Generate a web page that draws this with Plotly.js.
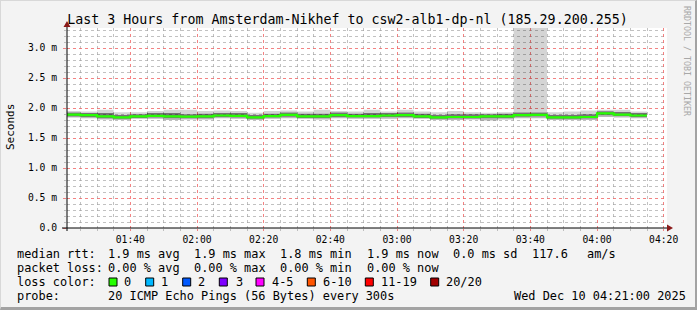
<!DOCTYPE html>
<html><head><meta charset="utf-8">
<script src="https://cdn.plot.ly/plotly-3.0.1.min.js"></script>
<style>
html,body{margin:0;padding:0;background:#f3f3f3;}
#wrap{position:relative;width:697px;height:310px;overflow:hidden;}
#chart{width:697px;height:310px;}
#frame{position:absolute;left:0;top:0;width:697px;height:310px;box-sizing:border-box;border-top:1px solid #d8d8d8;border-left:1px solid #d8d8d8;border-right:2px solid #a3a3a3;border-bottom:3px solid #a3a3a3;pointer-events:none;}
</style></head><body>
<div id="wrap"><div id="chart"></div><div id="frame"></div></div>
<script>
// ---------------- data ----------------
const chartTitle = 'Last 3 Hours from Amsterdam-Nikhef to csw2-alb1-dp-nl (185.29.200.255)';
const rangeStart = '2025-12-10 01:21:00';
const rangeEnd   = '2025-12-10 04:21:00';
const firstBinMinute = 80;   // 01:20, minutes after midnight
const binMinutes = 5;

// median RTT per 5-minute bin (ms)
const medianRtt = [1.89,1.88,1.86,1.845,1.86,1.87,1.86,1.855,1.86,1.875,1.87,1.845,1.865,1.885,1.86,1.86,1.88,1.865,1.865,1.875,1.88,1.86,1.845,1.85,1.85,1.86,1.86,1.88,1.885,1.845,1.845,1.85,1.91,1.89,1.875];
// smoke (ping spread) per bin (ms)
const smokeMin = [1.84,1.83,1.81,1.80,1.82,1.82,1.80,1.81,1.81,1.83,1.82,1.80,1.82,1.83,1.82,1.81,1.83,1.82,1.82,1.82,1.83,1.82,1.80,1.80,1.81,1.79,1.81,1.83,1.83,1.80,1.80,1.80,1.85,1.84,1.83];
const smokeLow = [1.86,1.85,1.83,1.82,1.835,1.84,1.83,1.83,1.83,1.85,1.84,1.82,1.84,1.855,1.835,1.835,1.85,1.84,1.84,1.85,1.85,1.835,1.82,1.825,1.825,1.83,1.835,1.855,1.86,1.82,1.82,1.825,1.88,1.865,1.85];
const smokeHigh = [1.925,1.915,1.915,1.885,1.895,1.915,1.915,1.895,1.905,1.915,1.915,1.885,1.905,1.925,1.905,1.905,1.925,1.905,1.915,1.915,1.925,1.905,1.885,1.895,1.895,1.895,1.905,1.925,1.925,1.885,1.885,1.895,1.945,1.935,1.915];
const smokeMax = [1.95,1.94,1.97,1.93,1.93,1.95,1.97,1.97,1.95,1.96,1.95,1.92,1.95,1.96,1.94,1.97,1.95,1.94,1.97,1.94,1.97,1.94,1.93,1.95,1.93,1.92,1.93,3.60,3.60,1.93,1.94,1.96,1.97,1.97,1.94];

const yTickVals = [0,0.5,1.0,1.5,2.0,2.5,3.0];
const yTickText = ['0.0','0.5 m','1.0 m','1.5 m','2.0 m','2.5 m','3.0 m'];

const legendRows = [
  ['median rtt:', '1.9 ms avg', '1.9 ms max', '1.8 ms min', '1.9 ms now', '0.0 ms sd', '117.6', 'am/s'],
  ['packet loss:', '0.00 % avg', '0.00 % max', '0.00 % min', '0.00 % now'],
];
const lossLabels = ['0','1','2','3','4-5','6-10','11-19','20/20'];
const lossColors = ['#26ff00','#00b8ff','#0059ff','#7e00ff','#ff00ff','#ff5500','#ff0000','#a10000'];
const probeText = '20 ICMP Echo Pings (56 Bytes) every 300s';
const stampText = 'Wed Dec 10 04:21:00 2025';

// ---------------- layout helpers ----------------
const MONO = 'DejaVu Sans Mono, monospace';
const PL = 67, PR = 667, PT = 28, PB = 228;
const PW = PR - PL, PH = PB - PT;
const px = x => (x - PL) / PW;
const py = y => (PB - y) / PH;

function t(m){ const h = Math.floor(m/60), mm = m%60; return '2025-12-10 ' + String(h).padStart(2,'0') + ':' + String(mm).padStart(2,'0') + ':00'; }
const binX = medianRtt.map((_, i) => t(firstBinMinute + i*binMinutes));
binX.push(t(firstBinMinute + medianRtt.length*binMinutes));
const ext = a => a.concat([a[a.length-1]]);

// minor grid positions (skip those that coincide with major grid)
const xMinor = [];
for (let m = 80; m <= 265; m += 5) if (m % 20 !== 0) xMinor.push(t(m));
const yMinor = [];
for (let k = 1; k <= 33; k++) if (k % 5 !== 0) yMinor.push(k/10);

function band(y, fill, fillcolor){
  return {x: binX, y: ext(y), type:'scatter', mode:'lines', line:{width:0, shape:'hv'}, fill: fill, fillcolor: fillcolor, hoverinfo:'skip', showlegend:false};
}
const traces = [
  band(smokeMin, 'none', null),
  band(smokeLow, 'tonexty', 'rgba(0,0,0,0.28)'),
  band(smokeHigh, 'tonexty', 'rgba(0,0,0,0.55)'),
  band(smokeMax, 'tonexty', 'rgba(0,0,0,0.17)'),
  {x: binX, y: ext(medianRtt), type:'scatter', mode:'lines', line:{width:2.2, shape:'hv', color: lossColors[0]}, hoverinfo:'skip', showlegend:false}
];

const annotations = [];
function ann(text, x, y, size, extra){
  annotations.push(Object.assign({text: text, xref:'paper', yref:'paper', x: px(x), y: py(y), xanchor:'left', yanchor:'middle', showarrow:false, borderpad:0, font:{family:MONO, size:size, color:'#000'}}, extra||{}));
}
const FS = 11.9;
const row1X = [16,107.3,193.3,279.3,366,451.7,531,585.7];
legendRows[0].forEach((s,i) => ann(s, row1X[i], 254, FS));
legendRows[1].forEach((s,i) => ann(s, row1X[i], 268, FS));
ann('loss color:', 16, 282, FS);
const boxX = [109,145.7,182.7,219.3,256,307.3,365.3,430.7];
const labX = [123.3,160,196.7,235,270.7,321.7,380,445];
const shapes = [];
lossLabels.forEach((s,i) => {
  ann(s, labX[i], 282, FS);
  shapes.push({type:'rect', xref:'paper', yref:'paper', x0: px(boxX[i]), x1: px(boxX[i]+8), y0: py(286), y1: py(278), fillcolor: lossColors[i], line:{color:'#000', width:1}});
});
ann('probe:', 16, 296, FS);
ann(probeText, 107.3, 296, FS);
ann(stampText, 513.3, 296, FS);
// axis title + watermark
ann('Seconds', 10, 127, 11, {textangle:-90, xanchor:'center'});
ann('RRDTOOL / TOBI OETIKER', 687, 61, 8.3, {textangle:90, xanchor:'center', font:{family:MONO, size:8.3, color:'#a8a8a8'}});

// axes lines and arrows
shapes.push({type:'line', xref:'paper', yref:'paper', x0: px(62), x1: px(668), y0: 0, y1: 0, line:{color:'#000', width:1}, layer:'above'});
shapes.push({type:'line', xref:'paper', yref:'paper', x0: 0, x1: 0, y0: py(231), y1: py(24), line:{color:'#000', width:1}, layer:'above'});
shapes.push({type:'path', xref:'paper', yref:'paper', path:`M ${px(63.5)} ${py(27)} L ${px(70.5)} ${py(27)} L ${px(67)} ${py(21)} Z`, fillcolor:'#8b1a1a', line:{width:0}, layer:'above'});
shapes.push({type:'path', xref:'paper', yref:'paper', path:`M ${px(667)} ${py(224.5)} L ${px(667)} ${py(231.5)} L ${px(673)} ${py(228)} Z`, fillcolor:'#8b1a1a', line:{width:0}, layer:'above'});

const MAJ = 'rgba(240,100,100,0.8)', MIN = 'rgba(160,160,160,0.65)';
const layout = {
  width: 697, height: 310,
  margin: {l: PL, r: 697-PR, t: PT, b: 310-PB, pad: 0},
  paper_bgcolor: '#f3f3f3', plot_bgcolor: '#ffffff',
  showlegend: false,
  title: {text: chartTitle, x: 347.5/697, xref:'container', xanchor:'center', y: 1-19/310, yref:'container', yanchor:'middle', font:{family:MONO, size:13.3, color:'#000'}},
  xaxis: {
    type:'date', range:[rangeStart, rangeEnd], tickformat:'%H:%M',
    tick0:'2025-12-10 00:00:00', dtick: 20*60*1000,
    showgrid:true, gridcolor: MAJ, griddash:'dot', gridwidth:1,
    ticks:'outside', ticklen:2, tickcolor: MAJ,
    minor:{tickmode:'array', tickvals: xMinor, showgrid:true, gridcolor: MIN, griddash:'dot', gridwidth:1, ticks:'outside', ticklen:2, tickcolor: MIN},
    showline:false, zeroline:false, fixedrange:true,
    tickfont:{family:MONO, size:9.7, color:'#000'}
  },
  yaxis: {
    range:[0, 3.3334], tickvals: yTickVals, ticktext: yTickText,
    showgrid:true, gridcolor: MAJ, griddash:'dot', gridwidth:1,
    ticks:'outside', ticklen:3, tickcolor: MAJ,
    minor:{tickmode:'array', tickvals: yMinor, showgrid:true, gridcolor: MIN, griddash:'dot', gridwidth:1, ticks:'outside', ticklen:2, tickcolor: MIN},
    showline:false, zeroline:false, fixedrange:true,
    ticklabelstandoff: 4,
    tickfont:{family:MONO, size:9.7, color:'#000'}
  },
  annotations: annotations,
  shapes: shapes
};
Plotly.newPlot('chart', traces, layout, {staticPlot:true, displayModeBar:false});
</script>
</body></html>
